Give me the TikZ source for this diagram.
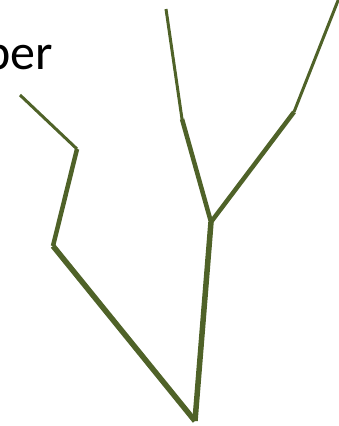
\documentclass[tikz,border=0pt]{standalone}
\usepackage{fontspec}
\setmainfont{Carlito}
\definecolor{branch}{HTML}{4F6228}
\begin{document}
\begin{tikzpicture}[x=1pt,y=-1pt,
  thick5/.style={draw=branch,line width=5.5pt},
  thick4/.style={draw=branch,line width=4.5pt},
  thin3/.style={draw=branch,line width=3pt}]
\useasboundingbox (0,0) rectangle (339,426);
\coordinate (root) at (195,421);
\coordinate (lj) at (53,246);
\coordinate (lk) at (77,149);
\coordinate (lt) at (20,95);
\coordinate (fork) at (211,222);
\coordinate (mj) at (182,119);
\coordinate (mt) at (166,9);
\coordinate (rj) at (294,112);
\coordinate (rt) at (339,-2);
\node[anchor=base east,inner sep=0pt,font=\fontsize{50}{60}\selectfont] (label) at (53,69) {ber};
\draw[thick5] (root) -- (lj);
\draw[thick4] (lj) -- (lk);
\draw[thin3] (lk) -- (lt);
\draw[thick5] (root) -- (fork);
\draw[thick4] (fork) -- (mj);
\draw[thin3] (mj) -- (mt);
\draw[thick4] (fork) -- (rj);
\draw[thin3] (rj) -- (rt);
\end{tikzpicture}
\end{document}
